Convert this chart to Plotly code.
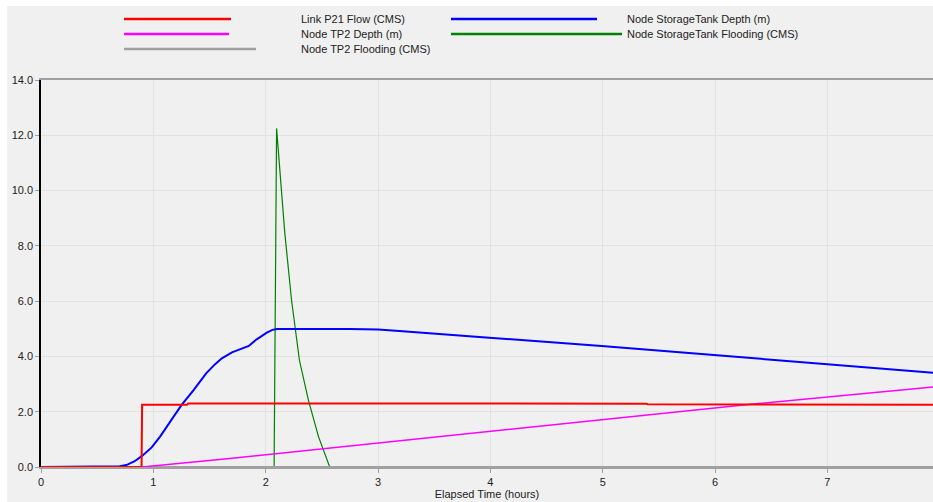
import plotly.graph_objects as go

# ---- data ----
flow_t = [0, 0.895, 0.90, 1.30, 1.31, 3.72, 3.73, 5.39, 5.40, 7.04, 7.05, 7.94]
flow_v = [0, 0.000, 2.25, 2.25, 2.30, 2.30, 2.29, 2.29, 2.27, 2.27, 2.25, 2.25]

tank_t = [0, 0.61, 0.70, 0.76, 0.83, 0.90, 0.985, 1.06, 1.16, 1.25, 1.36, 1.47, 1.55,
          1.61, 1.70, 1.78, 1.85, 1.92, 2.01, 2.06, 2.10, 2.22, 2.50, 2.75, 3.00,
          3.19, 3.99, 4.99, 5.99, 6.98, 7.94]
tank_v = [0, 0.01, 0.03, 0.07, 0.20, 0.40, 0.71, 1.10, 1.70, 2.24, 2.79, 3.39, 3.72,
          3.93, 4.15, 4.26, 4.38, 4.62, 4.86, 4.96, 4.99, 4.99, 5.00, 4.99, 4.97,
          4.92, 4.68, 4.38, 4.05, 3.73, 3.41]

tp2_t = [0, 0.90, 1.68, 3.02, 6.34, 7.94]
tp2_v = [0, 0.00, 0.31, 0.87, 2.28, 2.89]

fld_t = [0, 2.075, 2.097, 2.126, 2.17, 2.23, 2.30, 2.38, 2.47, 2.57, 7.94]
fld_v = [0, 0.00, 12.25, 10.87, 8.47, 6.04, 3.87, 2.42, 1.10, 0.00, 0.00]

tp2f_t = [0, 7.94]
tp2f_v = [0, 0]

names = ["Link P21 Flow (CMS)", "Node StorageTank Depth (m)", "Node TP2 Depth (m)",
         "Node StorageTank Flooding (CMS)", "Node TP2 Flooding (CMS)"]
colors = ["#ff0000", "#0000ff", "#ff00ff", "#008000", "#a0a0a0"]
widths = [2, 2, 1.5, 1.2, 2]

x_ticks = [0, 1, 2, 3, 4, 5, 6, 7]
y_ticks = [0, 2, 4, 6, 8, 10, 12, 14]

# ---- layout geometry (pixels) ----
W, H = 933, 502
L, T, B, R = 41, 80, 35, 0
PW, PH = W - L - R, H - T - B


def px(x):
    return (x - L) / PW


def py(y):
    return (H - B - y) / PH


data = [(flow_t, flow_v), (tank_t, tank_v), (tp2_t, tp2_v), (fld_t, fld_v), (tp2f_t, tp2f_v)]

fig = go.Figure()
# draw order: flooding, TP2 flooding, TP2 depth, tank depth, flow
for idx in [3, 4, 2, 1, 0]:
    t, v = data[idx]
    fig.add_trace(go.Scatter(x=t, y=v, mode="lines", name=names[idx],
                             line=dict(color=colors[idx], width=widths[idx]),
                             showlegend=False, hoverinfo="skip"))

shapes = [dict(type="rect", xref="paper", yref="paper", layer="below",
               x0=px(7), x1=px(W + 5), y0=py(H + 5), y1=py(6),
               fillcolor="#f0f0f0", line=dict(width=0))]

# manual legend
legend_items = [
    (0, 124, 231, 19, 299),
    (1, 451, 597, 19, 625),
    (2, 124, 229, 34, 299),
    (3, 451, 622, 34, 625),
    (4, 124, 256, 49, 299),
]
annotations = []
for idx, x0, x1, yy, tx in legend_items:
    shapes.append(dict(type="line", xref="paper", yref="paper",
                       x0=px(x0), x1=px(x1), y0=py(yy), y1=py(yy),
                       line=dict(color=colors[idx], width=2.5)))
    annotations.append(dict(xref="paper", yref="paper", x=px(tx), y=py(yy),
                            text=names[idx], showarrow=False, xanchor="left",
                            yanchor="middle",
                            font=dict(family="Liberation Sans, Arial", size=11, color="#222")))

fig.update_layout(
    width=W, height=H,
    margin=dict(l=L, r=R, t=T, b=B),
    paper_bgcolor="white",
    plot_bgcolor="white",
    shapes=shapes,
    annotations=annotations,
    font=dict(family="Liberation Sans, Arial", size=11, color="#222"),
    xaxis=dict(range=[0, 7.94], tickvals=x_ticks, ticktext=[str(v) for v in x_ticks],
               showgrid=True, gridcolor="#e2e2e2", gridwidth=1,
               showline=True, linecolor="#a0a0a0", linewidth=2, mirror=True,
               ticks="outside", ticklen=4, tickcolor="#a0a0a0",
               zeroline=False,
               title=dict(text="Elapsed Time (hours)", standoff=2,
                          font=dict(size=11, color="#222"))),
    yaxis=dict(range=[0, 14], tickvals=y_ticks, tickformat=".1f",
               showgrid=True, gridcolor="#e2e2e2", gridwidth=1,
               showline=True, linecolor="#000000", linewidth=1.5,
               ticks="outside", ticklen=4, tickcolor="#a0a0a0",
               zeroline=False),
)

fig.write_html("out.html")
